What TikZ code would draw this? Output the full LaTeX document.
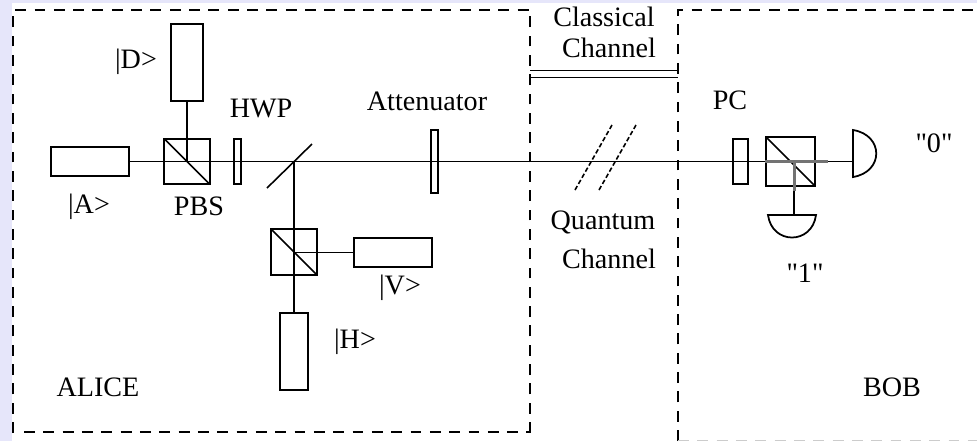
\documentclass[tikz,border=0pt]{standalone}
\usepackage{fontspec}
\setmainfont{Liberation Serif}
\usetikzlibrary{calc, positioning}
\definecolor{pagebg}{HTML}{E6E6FA}
\newcommand{\straightquote}{\XeTeXglyph\XeTeXcharglyph"22\relax}
\tikzset{
    optic/.style 2 args={draw,line width=1.1pt,inner sep=0pt,outer sep=0pt,
        minimum width=#1*0.5669pt,minimum height=#2*0.5669pt},
    label/.style={font=\fontsize{16}{18}\selectfont,inner sep=0pt},
    border/.style={line width=1pt,dash pattern=on 6.2pt off 4.8pt},
    slash/.style={line width=0.9pt,dash pattern=on 2.6pt off 1.4pt},
}

\begin{document}
\begin{tikzpicture}[x=0.02cm,y=-0.02cm,line width=1pt]
\useasboundingbox (0,0) rectangle (977,441);
\fill[pagebg] (0,0) rectangle (977,441);
\fill[white] (12,3) rectangle (977,441);
%
% dashed frames
\draw[border] (13,433)--(13,10)--(530,10);
\draw[border] (24,432)--(530,432);
\draw[border] (530,433)--(530,10);
\draw[border] (678,441)--(678,10)--(977,10);
\draw[border,gray!40,line width=0.5pt] (678,440)--(977,440);
%
% sources
\node[optic={78}{29}] (srcA) at (90,161.5) {};
\node[optic={32}{77}] (srcD) at (187,62.5) {};
\node[optic={79}{29}] (srcV) at (393,252.5) {};
\node[optic={29}{77}] (srcH) at (294,351.5) {};
%
% cubes and plates
\node[optic={46}{46}] (pbsA) at (187,161.5) {};
\node[optic={46}{46}] (pbsB) at (294,252) {};
\node[optic={49}{49}] (pbsC) at (790.5,161.5) {};
\node[optic={7}{45}] (hwp) at (237.5,161.5) {};
\node[optic={7}{63}] (atten) at (434.5,161.5) {};
\node[optic={15}{45}] (pc) at (740.5,161.5) {};
\draw[line width=0.9pt] (pbsA.north west)--(pbsA.south east);
\draw[line width=0.9pt] (pbsB.north west)--(pbsB.south east);
\draw[line width=0.9pt] (pbsC.north west)--(pbsC.south east);
%
% mirror
\coordinate (mirrorLo) at (267,188);
\coordinate (mirrorHi) at (312,144);
\coordinate (mirror) at (294,161.5);
\draw[line width=0.9pt] (mirrorLo)--(mirrorHi);
%
% detectors
\coordinate (detOtop) at (853,130);
\coordinate (detObot) at (853,177);
\coordinate (detO) at (853,161.5);
\draw (detOtop) .. controls (884,135) and (884,172) .. (detObot) -- cycle;
\coordinate (detIleft) at (768,215);
\coordinate (detIright) at (816,215);
\coordinate (detI) at (794,215);
\draw (detIleft) .. controls (772,245) and (812,245) .. (detIright) -- cycle;
%
% beams
\draw (srcA.east)--(mirror)--(atten.center)--(pc.center)--(pbsC.west);
\draw (srcD.south)--(pbsA.center);
\draw (mirror)--(srcH.north);
\draw (pbsB.center |- srcV.west)--(srcV.west);
\coordinate (grayEnd) at (828,161.5);
\coordinate (grayDown) at (794,191);
\coordinate (grayStart) at (765,161.5);
\draw (grayEnd)--(detO);
\draw (grayDown)--(detI);
\draw[black!55,line width=1.7pt] (grayStart)--(grayEnd);
\draw[black!55,line width=1.7pt] (794,161.5)--(grayDown);
%
% channels
\coordinate (classLa) at (530,70.5);
\coordinate (classRa) at (678,70.5);
\coordinate (classLb) at (530,77.5);
\coordinate (classRb) at (678,77.5);
\draw (classLa)--(classRa);
\draw (classLb)--(classRb);
\draw[slash] (575,190)--(612,125);
\draw[slash] (599,190)--(636,125);
%
% labels
\node[label] (lblD) at (136,62) {|D>};
\node[label] (lblA) at (89,207) {|A>};
\node[label] (lblV) at (400,288) {|V>};
\node[label] (lblH) at (355,342) {|H>};
\node[label] (lblPbs) at (199,206) {PBS};
\node[label] (lblHwp) at (261,108) {HWP};
\node[label] (lblAtt) at (427,101) {Attenuator};
\node[label] (lblCl) at (604,17) {Classical};
\node[label] (lblClb) at (609,48) {Channel};
\node[label] (lblQu) at (603,222) {Quantum};
\node[label] (lblQub) at (609,259) {Channel};
\node[label] (lblPc) at (730,100) {PC};
\node[label] (lblZero) at (934,143) {\straightquote 0\straightquote};
\node[label] (lblOne) at (805,273) {\straightquote 1\straightquote};
\node[label] (lblAlice) at (98,387) {ALICE};
\node[label] (lblBob) at (892,387) {BOB};
\end{tikzpicture}
\end{document}
